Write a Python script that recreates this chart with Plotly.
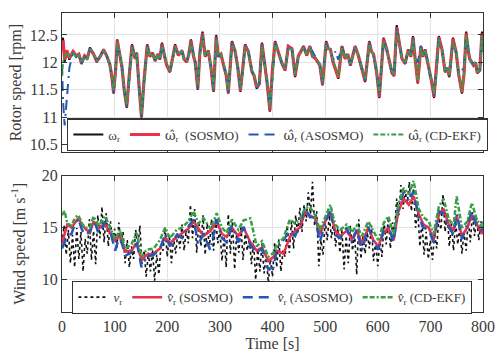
import plotly.graph_objects as go

# ---------------- Rotor speed data (rpm) ----------------
t_rot = [0,2,5,9,14,21,27,32,37,43,
         48,53,60,66,72,79,85,91,95,98,
         102,105,110,114,118,123,128,133,139,142,
         146,151,156,162,167,172,177,182,186,190,
         195,199,205,210,215,221,228,232,237,241,
         245,250,253,258,262,267,272,278,283,288,
         293,297,302,307,312,316,323,329,334,339,
         344,348,354,361,365,370,375,380,386,390,
         395,400,405,411,418,424,430,437,443,449,
         454,459,465,471,476,481,486,490,495,502,
         506,510,515,519,525,532,538,543,548,552,
         557,563,570,576,584,588,592,598,603,607,
         611,617,622,627,631,636,641,646,652,658,
         663,667,671,676,682,686,690,695,699,703,
         707,712,716,722,728,732,736,743,749,754,
         760,764,768,772,775,782,786,789,794,798,
         800]

omega_r = [12.25,12.45,12.0,12.2,12.05,12.21,12.1,12.15,11.97,12.12,
           12.05,12.27,12.15,12.0,12.1,12.24,12.12,11.94,11.7,11.43,
           11.9,12.42,12.12,11.9,11.5,11.17,11.8,12.33,12.06,12.18,
           11.6,10.99,11.7,12.33,12.1,12.18,12.02,12.15,12.05,12.36,
           12.1,11.94,11.82,12.05,12.33,12.12,12.22,12.05,12.0,12.15,
           12.42,12.1,12.0,11.5,12.2,12.56,12.1,12.22,11.9,11.46,
           12.5,12.1,12.15,11.94,11.75,11.43,12.39,12.2,11.9,11.46,
           11.9,12.33,12.2,11.82,11.75,11.52,11.6,12.36,11.9,11.6,
           11.1,11.9,12.39,12.2,11.97,11.85,12.3,12.25,11.73,12.12,
           12.2,12.3,12.12,12.3,12.1,12.07,12.0,11.94,11.58,12.39,
           12.25,12.24,12.0,11.9,11.7,12.3,12.06,12.15,11.94,12.1,
           12.3,12.12,11.85,11.64,12.39,12.2,12.15,11.8,11.35,11.9,
           12.45,12.24,12.0,11.8,11.75,12.68,12.36,12.06,11.97,12.24,
           12.1,12.48,12.06,11.61,12.3,12.1,12.24,12.0,11.76,11.6,
           11.35,11.9,12.48,12.24,11.82,11.9,11.73,12.45,12.18,11.76,
           11.43,11.8,12.56,12.2,12.05,11.94,12.0,11.8,11.85,12.56,
           12.2]

omega_sosmo = [12.3,12.4,12.05,12.22,12.08,12.2,12.12,12.15,11.99,12.12,
               12.07,12.25,12.15,12.02,12.1,12.23,12.12,11.96,11.72,11.45,
               11.88,12.4,12.13,11.91,11.52,11.19,11.78,12.31,12.07,12.17,
               11.62,11.01,11.68,12.31,12.11,12.17,12.03,12.15,12.06,12.34,
               12.11,11.95,11.83,12.05,12.31,12.13,12.21,12.06,12.01,12.15,
               12.4,12.11,12.01,11.52,12.18,12.53,12.11,12.21,11.91,11.48,
               12.47,12.11,12.15,11.95,11.77,11.45,12.37,12.2,11.91,11.48,
               11.89,12.31,12.2,11.83,11.76,11.54,11.61,12.34,11.91,11.61,
               11.12,11.88,12.37,12.2,11.98,11.86,12.29,12.25,11.75,12.11,
               12.2,12.29,12.13,12.29,12.11,12.08,12.01,11.95,11.6,12.37,
               12.25,12.24,12.01,11.91,11.72,12.29,12.07,12.15,11.95,12.1,
               12.29,12.13,11.86,11.66,12.37,12.2,12.15,11.81,11.37,11.89,
               12.43,12.24,12.01,11.81,11.76,12.64,12.35,12.07,11.98,12.23,
               12.11,12.46,12.07,11.63,12.29,12.11,12.23,12.01,11.77,11.62,
               11.37,11.89,12.46,12.24,11.83,11.9,11.75,12.43,12.18,11.77,
               11.45,11.79,12.53,12.2,12.06,11.95,12.0,11.81,11.86,12.53,
               12.2]

omega_asosmo = [11.95,11.3,10.85,11.35,11.9,12.18,12.1,12.14,11.98,12.1,
                12.06,12.25,12.15,12.02,12.1,12.22,12.12,11.96,11.75,11.45,
                11.85,12.38,12.14,11.92,11.52,11.2,11.75,12.3,12.08,12.16,
                11.62,11.02,11.65,12.3,12.12,12.16,12.04,12.14,12.06,12.33,
                12.12,11.96,11.84,12.04,12.3,12.14,12.2,12.06,12.02,12.14,
                12.38,12.12,12.02,11.54,12.15,12.5,12.12,12.2,11.92,11.5,
                12.45,12.12,12.14,11.96,11.78,11.46,12.35,12.2,11.92,11.5,
                11.88,12.3,12.2,11.84,11.77,11.55,11.62,12.32,11.92,11.62,
                11.15,11.85,12.35,12.2,11.98,11.87,12.28,12.24,11.76,12.1,
                12.2,12.28,12.14,12.28,12.2,12.1,12.02,11.96,11.62,12.35,
                12.25,12.24,12.02,12.2,12.05,12.28,12.08,12.14,11.96,12.1,
                12.28,12.14,11.87,11.67,12.35,12.2,12.14,11.82,11.4,11.88,
                12.4,12.24,12.02,11.82,11.77,12.6,12.34,12.08,11.98,12.22,
                12.12,12.44,12.08,12.0,12.3,12.12,12.22,12.02,11.78,11.63,
                11.4,11.88,12.44,12.24,11.84,11.9,11.76,12.4,12.18,11.78,
                11.86,11.9,12.5,12.2,12.06,11.96,12.0,11.82,11.86,12.5,
                12.2]

omega_ekf = [11.75,12.0,12.12,12.18,12.1,12.19,12.1,12.14,12.0,12.1,
             12.06,12.24,12.15,12.03,12.1,12.22,12.12,11.97,11.74,11.5,
             11.82,12.36,12.14,11.93,11.55,11.22,11.72,12.28,12.08,12.16,
             11.65,11.05,11.62,12.28,12.12,12.16,12.04,12.14,12.06,12.3,
             12.12,11.97,11.85,12.03,12.28,12.14,12.2,12.06,12.03,12.14,
             12.36,12.12,12.02,11.56,12.12,12.48,12.12,12.2,11.93,11.52,
             12.42,12.12,12.14,11.97,11.8,11.5,12.32,12.2,11.93,11.52,
             11.86,12.28,12.2,11.85,11.78,11.57,11.63,12.3,11.92,11.64,
             11.18,11.82,12.33,12.2,11.99,11.88,12.26,12.24,11.78,12.1,
             12.19,12.27,12.14,12.27,12.12,12.08,12.02,11.97,11.64,12.32,
             12.25,12.23,12.03,11.93,11.74,12.26,12.08,12.14,11.97,12.1,
             12.27,12.14,11.88,11.68,12.33,12.2,12.14,11.83,11.42,11.86,
             12.38,12.24,12.03,11.83,11.78,12.58,12.34,12.08,11.99,12.22,
             12.12,12.42,12.08,11.66,12.26,12.12,12.22,12.03,11.8,11.65,
             11.42,11.86,12.42,12.24,11.85,11.9,11.77,12.38,12.18,11.8,
             11.47,11.78,12.5,12.2,12.06,11.96,12.0,11.83,11.86,12.48,
             12.2]

# ---------------- Wind speed data (m/s) ----------------
t_wind = list(range(0, 801, 4))
v_r = [13.5,15.2,12.4,14.8,11.6,14.3,
       11.2,15.0,12.0,14.6,10.8,13.9,
       12.5,15.8,11.9,14.7,11.5,16.2,
       14.0,17.0,13.6,16.4,13.2,15.6,
       13.8,14.9,12.9,15.5,13.4,14.6,
       11.6,13.8,11.2,13.2,12.0,14.8,
       13.0,15.2,11.5,12.8,10.3,12.6,
       10.8,12.9,9.9,12.4,10.5,13.2,
       12.8,15.0,12.2,14.3,11.6,14.0,
       12.5,14.5,13.0,15.3,12.8,14.8,
       13.5,17.2,14.0,16.8,12.6,15.6,
       13.2,16.2,12.4,15.4,13.0,15.8,
       12.8,16.0,13.5,14.8,11.8,14.2,
       11.2,16.3,12.5,15.6,11.0,14.5,
       12.6,15.2,11.9,14.4,12.8,14.0,
       11.5,13.8,10.0,12.9,10.8,13.5,
       10.6,12.4,9.7,12.0,10.3,13.6,
       11.2,13.9,10.8,12.8,12.2,15.2,
       12.6,15.6,13.0,16.2,14.4,16.9,
       14.6,17.2,15.6,18.4,16.3,19.4,
       15.2,16.6,11.3,13.8,12.4,15.8,
       13.8,16.2,14.0,15.6,13.2,15.0,
       12.6,14.8,11.0,14.2,11.6,15.2,
       12.8,14.6,10.5,15.8,12.0,14.3,
       12.5,14.6,13.0,15.2,11.8,13.6,
       11.3,13.8,12.2,15.6,13.4,16.0,
       13.0,15.5,14.6,17.8,16.2,19.1,
       16.8,18.6,17.4,19.4,16.6,18.8,
       15.0,16.8,13.2,15.6,12.4,14.6,
       12.0,13.8,11.9,14.5,13.0,16.0,
       14.8,18.2,14.6,16.4,13.2,15.4,
       12.8,15.6,13.4,15.2,12.5,14.6,
       12.8,15.8,13.6,16.5,14.2,15.9,
       13.8,15.6,14.6]

t_est = [0,5,10,18,25,31,38,44,53,60,
         69,76,82,91,101,110,120,132,142,151,
         161,174,186,196,205,218,228,240,250,259,
         269,282,294,304,313,323,335,345,358,370,
         380,392,402,408,421,433,443,452,462,471,
         481,490,500,510,519,529,541,551,560,570,
         582,592,601,611,620,630,639,649,659,668,
         678,687,697,706,716,725,735,744,750,760,
         770,779,788,798,800]

v_sosmo = [13.5,14.5,15.3,15.0,15.5,15.9,15.3,14.9,14.5,15.6,
           14.9,15.2,15.3,14.6,13.8,14.2,12.7,12.8,13.5,11.9,
           12.4,12.5,13.0,14.1,13.5,14.1,14.5,14.9,15.6,14.9,
           14.2,14.7,15.6,14.4,14.1,15.0,14.2,15.0,13.6,12.8,
           13.1,11.8,12.2,12.8,12.5,14.1,14.7,15.0,16.5,16.2,
           15.9,14.4,15.6,16.5,14.7,14.2,14.7,13.9,14.7,13.5,
           15.0,13.8,13.2,14.5,15.0,13.8,16.5,17.8,17.2,18.0,
           16.3,15.3,15.0,13.8,16.2,16.8,15.3,14.7,16.2,14.2,
           15.0,16.2,15.3,14.4,15.0]

v_asosmo = [13.0,13.6,14.2,14.4,15.4,15.8,14.8,14.3,14.6,15.9,
            14.5,14.9,15.6,14.8,12.8,14.3,12.3,12.6,13.7,11.2,
            12.2,12.4,12.9,14.4,13.2,14.3,14.0,15.1,15.8,13.4,
            14.4,12.8,15.8,14.0,13.6,15.2,13.6,15.1,13.3,12.6,
            13.0,11.0,11.2,12.9,13.8,14.7,14.2,15.3,16.9,16.0,
            16.0,13.6,15.5,16.8,14.3,14.0,15.0,13.6,14.8,12.8,
            15.1,13.6,12.9,14.8,15.2,13.6,17.0,18.4,17.6,18.5,
            16.0,15.0,14.8,13.6,16.6,16.4,15.0,14.4,16.4,13.9,
            15.3,16.6,15.1,14.5,15.2]

v_ekf = [16.2,16.6,15.4,15.2,16.0,16.2,15.4,15.0,15.0,16.1,
         15.2,15.6,16.1,15.0,13.9,14.8,13.0,13.4,14.5,12.2,
         12.9,13.0,13.8,15.0,14.0,14.8,15.0,15.6,16.6,15.4,
         15.9,14.9,16.4,15.0,14.5,15.8,14.8,15.7,15.9,13.2,
         13.7,12.2,12.6,13.4,14.0,15.8,15.4,15.8,16.9,17.0,
         16.2,14.8,16.0,17.2,15.3,14.8,15.3,14.6,15.2,14.2,
         15.6,14.6,13.8,15.4,16.1,14.4,17.2,18.8,18.2,19.5,
         16.8,16.0,15.6,14.4,17.0,17.8,15.8,15.2,18.0,15.0,
         15.6,17.4,15.8,15.0,15.6]

# ---------------- Styling ----------------
BLACK = "#111111"
RED = "#e8314b"
BLUE = "#2457b8"
GREEN = "#3a9e47"
FONT = "Liberation Serif, Times New Roman, Times, serif"
TXT = "#3a3a3a"

OMEGA_HAT = '<span style="font-family:DejaVu Serif">ω\u0302</span>'

fig = go.Figure()

# Top panel
fig.add_trace(go.Scatter(x=t_rot, y=omega_r, mode="lines", name="ω<sub>r</sub>",
                         line=dict(color=BLACK, width=2), legend="legend"))
fig.add_trace(go.Scatter(x=t_rot, y=omega_sosmo, mode="lines", name=OMEGA_HAT + "<sub>r</sub>  (SOSMO)",
                         line=dict(color=RED, width=3.2), legend="legend"))
fig.add_trace(go.Scatter(x=t_rot, y=omega_asosmo, mode="lines", name=OMEGA_HAT + "<sub>r</sub> (ASOSMO)",
                         line=dict(color=BLUE, width=2, dash="10px,6px,10px,6px,2px,4px"), legend="legend"))
fig.add_trace(go.Scatter(x=t_rot, y=omega_ekf, mode="lines", name=OMEGA_HAT + "<sub>r</sub> (CD-EKF)",
                         line=dict(color=GREEN, width=2, dash="5px,2px,5px,2px,2px,2px"), legend="legend"))

# Bottom panel
fig.add_trace(go.Scatter(x=t_wind, y=v_r, mode="lines", name="<i>v</i><sub>r</sub>",
                         line=dict(color=BLACK, width=1.6, dash="dot"),
                         xaxis="x2", yaxis="y2", legend="legend2"))
fig.add_trace(go.Scatter(x=t_est, y=v_sosmo, mode="lines", name="<i>v\u0302</i><sub>r</sub> (SOSMO)",
                         line=dict(color=RED, width=2.5),
                         xaxis="x2", yaxis="y2", legend="legend2"))
fig.add_trace(go.Scatter(x=t_est, y=v_asosmo, mode="lines", name="<i>v\u0302</i><sub>r</sub> (ASOSMO)",
                         line=dict(color=BLUE, width=2.5, dash="10px,6px,10px,6px,2px,4px"),
                         xaxis="x2", yaxis="y2", legend="legend2"))
fig.add_trace(go.Scatter(x=t_est, y=v_ekf, mode="lines", name="<i>v\u0302</i><sub>r</sub> (CD-EKF)",
                         line=dict(color=GREEN, width=2.5, dash="5px,2px,5px,2px,2px,2px"),
                         xaxis="x2", yaxis="y2", legend="legend2"))

axis_common = dict(showline=True, linecolor="#333333", linewidth=1.2, mirror="ticks",
                   ticks="inside", ticklen=5, tickcolor="#333333",
                   showgrid=True, gridcolor="#e3e3e3", gridwidth=1, zeroline=False,
                   tickfont=dict(family=FONT, size=16, color=TXT))

top_dom = [0.534, 1.0]
bot_dom = [0.0, 0.456]

fig.update_layout(
    width=500, height=361,
    margin=dict(l=62, r=17, t=5, b=49),
    paper_bgcolor="white", plot_bgcolor="white",
    showlegend=True,
    font=dict(family=FONT, size=14, color=TXT),
    xaxis=dict(domain=[0, 1], range=[0, 800], tickvals=list(range(0, 801, 100)),
               showticklabels=False, anchor="y", **axis_common),
    yaxis=dict(domain=top_dom, range=[10.36, 12.9], tickvals=[10.5, 11, 11.5, 12, 12.5],
               ticktext=["10.5", "11", "11.5", "12", "12.5"], anchor="x",
               title=dict(text="Rotor speed [rpm]", font=dict(family=FONT, size=16, color=TXT),
                          standoff=4), **axis_common),
    xaxis2=dict(domain=[0, 1], range=[0, 800], tickvals=list(range(0, 801, 100)),
                anchor="y2",
                title=dict(text="Time [s]", font=dict(family=FONT, size=16, color=TXT),
                           standoff=2), **axis_common),
    yaxis2=dict(domain=bot_dom, range=[6.9, 20], tickvals=[10, 15, 20], anchor="x2",
                title=dict(text="Wind speed [m s<sup>-1</sup>]", font=dict(family=FONT, size=16, color=TXT),
                           standoff=12), **axis_common),
    legend=dict(orientation="h", x=0.012, y=0.648, xanchor="left", yanchor="top",
                bgcolor="white", bordercolor="#333333", borderwidth=1.3,
                font=dict(family=FONT, size=13, color=TXT),
                itemwidth=30, tracegroupgap=0),
    legend2=dict(orientation="h", x=0.024, y=0.104, xanchor="left", yanchor="top",
                 bgcolor="white", bordercolor="#333333", borderwidth=1.3,
                 font=dict(family=FONT, size=13, color=TXT),
                 itemwidth=30, tracegroupgap=0),
)

fig.write_html("out.html")
